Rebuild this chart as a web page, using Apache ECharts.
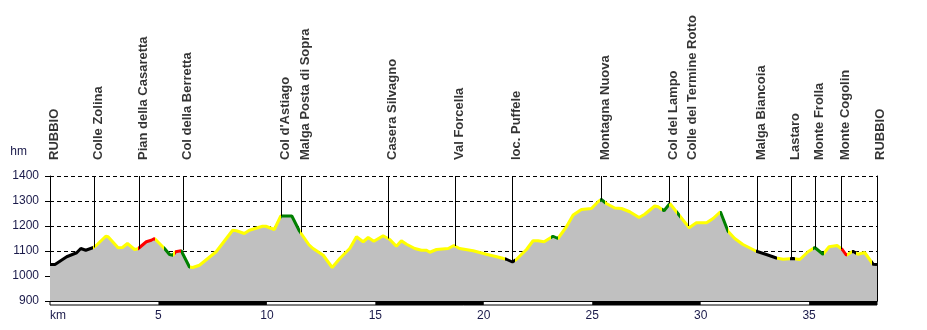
<!DOCTYPE html>
<html>
<head>
<meta charset="utf-8">
<script src="https://cdn.jsdelivr.net/npm/echarts@6/dist/echarts.min.js"></script>
<style>
  body { margin: 0; background: #fff; }
  #chart { width: 927px; height: 330px; }
</style>
</head>
<body>
<div id="chart"></div>
<script>
// elevation profile (km, m)
var profileKm = [0, 0.23, 0.77, 1.23, 1.42, 1.65, 2.0, 2.14, 2.57, 2.68, 3.14, 3.34, 3.57, 3.9, 4.06, 4.44, 4.67, 4.82, 4.9,
  5.28, 5.51, 5.67, 5.79, 6.05, 6.13, 6.43, 6.58, 6.89, 7.66, 8.42, 8.6, 8.96, 9.19, 9.8, 9.95, 10.34, 10.64, 11.15, 11.5,
  11.94, 12.13, 12.6, 13.01, 13.36, 13.82, 14.13, 14.44, 14.67, 14.93, 15.36, 15.67, 15.97, 16.2, 16.44, 16.82, 17.13, 17.36,
  17.51, 17.82, 18.36, 18.62, 18.89, 19.51, 20.12, 20.74, 21.04, 21.32, 21.5, 21.97, 22.27, 22.5, 22.78, 23.19, 23.42, 23.81,
  24.12, 24.5, 24.96, 25.27, 25.42, 25.65, 26.04, 26.35, 26.73, 27.16, 27.42, 27.88, 28.04, 28.31, 28.58, 29.04, 29.47, 29.8,
  30.27, 30.57, 30.91, 31.26, 31.57, 31.95, 32.57, 33.03, 33.49, 33.8, 34.26, 34.57, 34.95, 35.26, 35.64, 35.92, 36.29, 36.53,
  36.72, 37.02, 37.25, 37.56, 37.95, 38.13]
var profileElev = [1046, 1046, 1077, 1093, 1110, 1103, 1114, 1123, 1159, 1157, 1113, 1114, 1130, 1106, 1109, 1137, 1143, 1150, 1147,
  1110, 1086, 1083, 1097, 1101, 1103, 1036, 1034, 1043, 1097, 1183, 1181, 1170, 1183, 1199, 1199, 1186, 1240, 1240, 1180,
  1125, 1110, 1083, 1034, 1070, 1110, 1157, 1137, 1154, 1139, 1161, 1146, 1119, 1141, 1127, 1110, 1103, 1103,
  1095, 1106, 1110, 1122, 1110, 1101, 1087, 1074, 1067, 1056, 1066, 1106, 1141, 1141, 1137, 1159, 1150, 1197,
  1244, 1266, 1270, 1297, 1306, 1290, 1272, 1270, 1257, 1234, 1247, 1280, 1277, 1261, 1290, 1240, 1193, 1213,
  1213, 1230, 1257, 1179, 1150, 1126, 1099, 1086, 1072, 1067, 1070, 1066, 1097, 1114, 1087, 1117, 1122, 1106,
  1083, 1099, 1087, 1094, 1047, 1046]

// surface type of each stretch between the break points (K, Y, R, G)
var segmentBreaks = [0, 2.0, 4.06, 4.85, 5.25, 5.65, 5.78, 6.06, 6.45, 10.64, 11.53, 21.0, 21.43, 23.12, 23.4, 25.35, 25.58,
  28.24, 28.55, 28.9, 29.05, 30.91, 31.27, 32.57, 33.5, 34.12, 34.34, 35.2, 35.67, 36.45, 36.75, 37.0, 37.18, 37.92, 38.13]
var segmentType = ['K', 'Y', 'R', 'Y', 'G', 'Y', 'R', 'G', 'Y', 'G', 'Y', 'K', 'Y', 'G', 'Y', 'G', 'Y',
  'G', 'Y', 'G', 'Y', 'G', 'Y', 'K', 'Y', 'K', 'Y', 'G', 'Y', 'R', 'Y', 'K', 'Y', 'K']

// waypoints
var waypointNames = ['RUBBIO', 'Colle Zolina', 'Pian della Casaretta', 'Col della Berretta', "Col d'Astiago",
  'Malga Posta di Sopra', 'Casera Silvagno', 'Val Forcella', 'loc. Puffele', 'Montagna Nuova', 'Col del Lampo',
  'Colle del Termine Rotto', 'Malga Biancoia', 'Lastaro', 'Monte Frolla', 'Monte Cogolin', 'RUBBIO']
var waypointKm = [0, 2.03, 4.1, 6.15, 10.68, 11.6, 15.6, 18.68, 21.3, 25.42, 28.57, 29.42, 32.6, 34.17, 35.29, 36.5, 38.12]
var waypointElev = [1046, 1114, 1109, 1103, 1240, 1175, 1150, 1120, 1056, 1305, 1290, 1200, 1099, 1070, 1114, 1108, 1046]

// alternating km scale bar (black parts)
var scaleBlack = [[5, 10], [15, 20], [25, 30], [35, 38.13]]

var kmMax = 38.13
var yTicks = [900, 1000, 1100, 1200, 1300, 1400]

var typeColors = { K: '#000000', Y: '#ffff00', R: '#ff0000', G: '#008000' }
var labelColor = '#1a1a4a'
var fontFamily = '"Liberation Sans", Arial, sans-serif'

var profile = profileKm.map(function(k, i) { return [k, profileElev[i]] })

var pieces = segmentType.map(function(t, i) {
  var p = { color: typeColors[t] }
  if (i > 0) p.gte = segmentBreaks[i]
  if (i < segmentType.length - 1) p.lt = segmentBreaks[i + 1]
  return p
})

var markLines = waypointKm.map(function(k, i) {
  return [{ coord: [k, yTicks[yTicks.length - 1]] }, { coord: [k, waypointElev[i]] }]
})

var chart = echarts.init(document.getElementById('chart'))

chart.setOption({
  animation: false,
  textStyle: { fontFamily: fontFamily },
  grid: [
    { left: 50, right: 50, top: 176, bottom: 29 },
    { left: 50, right: 50, top: 301, height: 4, show: true, borderColor: '#000', borderWidth: 1, backgroundColor: '#fff' },
    // names sit a few px right of their marker line
    { left: 54, right: 46, top: 176, bottom: 29 }
  ],
  visualMap: {
    show: false,
    type: 'piecewise',
    seriesIndex: 1,
    dimension: 0,
    pieces: pieces
  },
  xAxis: [{
    type: 'value',
    gridIndex: 0,
    min: 0,
    max: kmMax,
    interval: 5,
    axisLine: { lineStyle: { color: '#000', width: 1 } },
    axisTick: { show: false },
    splitLine: { show: false },
    axisLabel: {
      margin: 9,
      fontSize: 12,
      color: labelColor,
      showMaxLabel: false,
      alignMinLabel: 'left',
      formatter: function(v) { return v === 0 ? 'km' : String(v) }
    }
  }, {
    type: 'value',
    gridIndex: 1,
    min: 0,
    max: kmMax,
    show: false
  }, {
    type: 'value',
    gridIndex: 2,
    min: 0,
    max: kmMax,
    show: false
  }],
  yAxis: [{
    type: 'value',
    gridIndex: 0,
    min: yTicks[0],
    max: yTicks[yTicks.length - 1],
    interval: 100,
    name: 'hm',
    nameLocation: 'end',
    nameGap: 24,
    nameTextStyle: { color: labelColor, fontSize: 12, align: 'right', verticalAlign: 'middle', padding: [0, 23, 0, 0] },
    axisLine: { show: true, lineStyle: { color: '#000', width: 1 } },
    axisTick: { show: true, length: 5, lineStyle: { color: '#000' } },
    axisLabel: { margin: 11, fontSize: 12, color: labelColor, formatter: function(v) { return String(v) } },
    splitLine: { show: true, lineStyle: { color: '#000', type: [4, 3], width: 1 } }
  }, {
    type: 'value',
    gridIndex: 0,
    position: 'right',
    min: yTicks[0],
    max: yTicks[yTicks.length - 1],
    axisLine: { show: true, lineStyle: { color: '#000', width: 1 } },
    axisTick: { show: false },
    axisLabel: { show: false },
    splitLine: { show: false }
  }, {
    type: 'value',
    gridIndex: 1,
    min: 0,
    max: 1,
    show: false
  }, {
    type: 'value',
    gridIndex: 2,
    min: 0,
    max: 1,
    show: false
  }],
  series: [{
    // grey area + waypoint lines
    name: 'area',
    type: 'line',
    xAxisIndex: 0,
    yAxisIndex: 0,
    data: profile,
    symbol: 'none',
    silent: true,
    lineStyle: { width: 0 },
    areaStyle: { color: '#c0c0c0', opacity: 1 },
    z: 1,
    markLine: {
      silent: true,
      symbol: 'none',
      label: { show: false },
      lineStyle: { color: '#000', width: 1, type: 'solid' },
      data: markLines
    }
  }, {
    name: 'profile',
    type: 'line',
    xAxisIndex: 0,
    yAxisIndex: 0,
    data: profile,
    symbol: 'none',
    lineStyle: { width: 3 },
    z: 3
  }, {
    name: 'scale',
    type: 'custom',
    xAxisIndex: 1,
    yAxisIndex: 2,
    data: scaleBlack,
    encode: { x: [0, 1] },
    renderItem: function(params, api) {
      var p0 = api.coord([api.value(0), 1])
      var p1 = api.coord([api.value(1), 0])
      return {
        type: 'rect',
        shape: { x: p0[0], y: p0[1], width: p1[0] - p0[0], height: p1[1] - p0[1] },
        style: { fill: '#000' }
      }
    }
  }, {
    // waypoint names above the plot
    name: 'waypoints',
    type: 'scatter',
    xAxisIndex: 2,
    yAxisIndex: 3,
    data: waypointKm.map(function(k) { return [k, 1] }),
    symbolSize: 0,
    silent: true,
    clip: false,
    label: {
      show: true,
      position: 'top',
      distance: 16,
      rotate: 90,
      align: 'left',
      verticalAlign: 'middle',
      fontSize: 13,
      fontWeight: 'bold',
      color: '#000',
      formatter: function(p) { return waypointNames[p.dataIndex] }
    },
    labelLayout: { hideOverlap: false }
  }]
})
</script>
</body>
</html>
